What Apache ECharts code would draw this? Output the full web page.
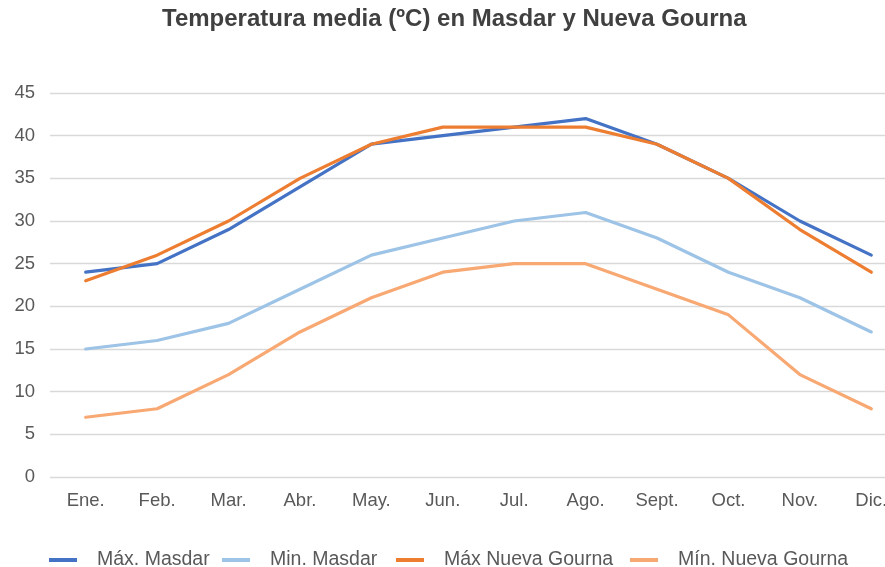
<!DOCTYPE html>
<html>
<head>
<meta charset="utf-8">
<script src="https://cdn.jsdelivr.net/npm/echarts@6/dist/echarts.min.js"></script>
<style>
  html, body { margin: 0; padding: 0; background: #fff; }
  #chart { width: 885px; height: 567px; }
</style>
</head>
<body>
<div id="chart"></div>
<script>
const months = ['Ene.', 'Feb.', 'Mar.', 'Abr.', 'May.', 'Jun.', 'Jul.', 'Ago.', 'Sept.', 'Oct.', 'Nov.', 'Dic.'];
const seriesNames = ['Máx. Masdar', 'Min. Masdar', 'Máx Nueva Gourna', 'Mín. Nueva Gourna'];
const maxMasdar = [24, 25, 29, 34, 39, 40, 41, 42, 39, 35, 30, 26];
const minMasdar = [15, 16, 18, 22, 26, 28, 30, 31, 28, 24, 21, 17];
const maxGourna = [23, 26, 30, 35, 39, 41, 41, 41, 39, 35, 29, 24];
const minGourna = [7, 8, 12, 17, 21, 24, 25, 25, 22, 19, 12, 8];

const FONT = "'Liberation Sans', Arial, sans-serif";
const TXT = '#595959';
const COLORS = ['#4472C4', '#9DC3E6', '#ED7D31', '#F8A872'];
const legendLeft = [49, 222, 396, 630];

function line(i, data) {
  return {
    name: seriesNames[i], type: 'line', data: data, symbol: 'none',
    lineStyle: { width: 3.2, color: COLORS[i], cap: 'round', join: 'round' },
    itemStyle: { color: COLORS[i] }
  };
}

function legendFor(i) {
  return {
    top: 550, left: legendLeft[i], padding: 0,
    itemWidth: 28, itemHeight: 4, icon: 'rect',
    textStyle: { fontFamily: FONT, fontSize: 19.5, color: TXT, padding: [0, 0, 0, 15] },
    data: [seriesNames[i]]
  };
}

const chart = echarts.init(document.getElementById('chart'));
chart.setOption({
  animation: false,
  textStyle: { fontFamily: FONT },
  title: {
    text: 'Temperatura media (ºC) en Masdar y Nueva Gourna',
    left: 157, top: 2,
    textStyle: { fontFamily: FONT, fontSize: 24, fontWeight: 'bold', color: '#404040' }
  },
  legend: [0, 1, 2, 3].map(legendFor),
  grid: { left: 50, width: 857, top: 93, height: 384, outerBoundsMode: 'none' },
  xAxis: {
    type: 'category', data: months, boundaryGap: true,
    axisLine: { show: false }, axisTick: { show: false },
    axisLabel: { color: TXT, fontSize: 18.5, margin: 14, fontFamily: FONT }
  },
  yAxis: {
    type: 'value', min: 0, max: 45, interval: 5,
    axisLine: { show: false }, axisTick: { show: false },
    axisLabel: { color: TXT, fontSize: 18.5, margin: 15, fontFamily: FONT },
    splitLine: { lineStyle: { color: '#d9d9d9', width: 1.3 } }
  },
  series: [
    line(0, maxMasdar),
    line(1, minMasdar),
    line(2, maxGourna),
    line(3, minGourna)
  ]
});
</script>
</body>
</html>
